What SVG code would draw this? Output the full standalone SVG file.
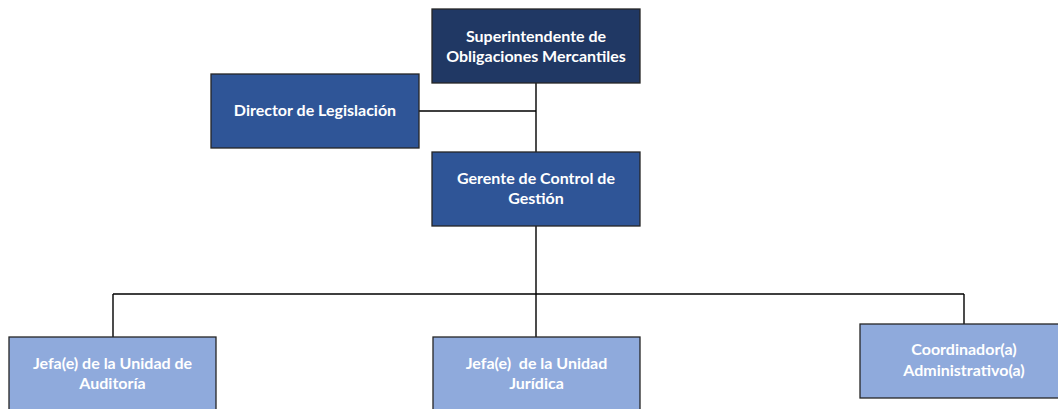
<svg xmlns="http://www.w3.org/2000/svg" width="1058" height="409" viewBox="0 0 1058 409">
<style>
.box{stroke:#262626;stroke-width:1.3}
.dark{fill:#203864}
.mid{fill:#2F5597}
.light{fill:#8FAADC}
.t{font-family:Lato,"Open Sans",sans-serif;font-weight:bold;font-size:16px;fill:#ffffff;text-anchor:middle}
.c{stroke:#000;stroke-width:1.4;fill:none}
</style>
<rect width="1058" height="409" fill="#ffffff"/>
<g id="connectors">
<path class="c" d="M536 83V152M419 111H536M536 226V337M113 294H964M113 294V337M964 294V324"/>
</g>
<g id="superintendente">
<rect class="box dark" x="432" y="9" width="208" height="74"/>
<text class="t" x="536" y="42">Superintendente de</text>
<text class="t" x="536" y="62">Obligaciones Mercantiles</text>
</g>
<g id="director">
<rect class="box mid" x="211" y="74" width="208" height="74"/>
<text class="t" x="315" y="116">Director de Legislación</text>
</g>
<g id="gerente">
<rect class="box mid" x="432" y="152" width="208" height="74"/>
<text class="t" x="536" y="184">Gerente de Control de</text>
<text class="t" x="536" y="204">Gestión</text>
</g>
<g id="auditoria">
<rect class="box light" x="9" y="337" width="207" height="74"/>
<text class="t" x="112.5" y="369">Jefa(e) de la Unidad de</text>
<text class="t" x="112.5" y="389">Auditoría</text>
</g>
<g id="juridica">
<rect class="box light" x="433" y="337" width="207" height="74"/>
<text class="t" x="536.5" y="369" xml:space="preserve">Jefa(e)  de la Unidad</text>
<text class="t" x="536.5" y="389">Jurídica</text>
</g>
<g id="coordinador">
<rect class="box light" x="860" y="324" width="208" height="74"/>
<text class="t" x="964" y="355">Coordinador(a)</text>
<text class="t" x="964" y="376">Administrativo(a)</text>
</g>
</svg>
